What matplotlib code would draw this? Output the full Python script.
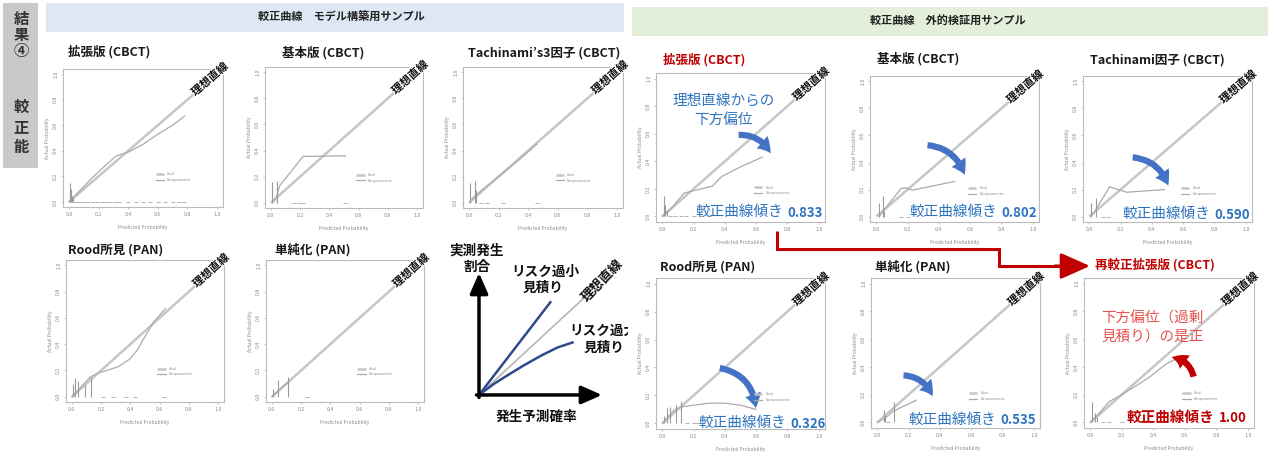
import numpy as np
import matplotlib
matplotlib.use('Agg')
import matplotlib.pyplot as plt
import matplotlib.patheffects as pe
from matplotlib.patches import Rectangle, FancyArrowPatch

plt.rcParams['font.family'] = ['Noto Sans CJK JP', 'DejaVu Sans']

W, H = 1270, 454

# ---- model-building sample (left) ----
bld_ext_px = [0.0, 0.05, 0.15, 0.25, 0.32, 0.40, 0.50, 0.60, 0.70, 0.78]
bld_ext_py = [0.0, 0.06, 0.18, 0.29, 0.36, 0.39, 0.45, 0.53, 0.60, 0.67]
bld_ext_sx = [0.005, 0.01, 0.015, 0.02, 0.03]
bld_ext_sh = [0.08, 0.15, 0.10, 0.05, 0.03]
bld_ext_rug = [0.04, 0.06, 0.08, 0.10, 0.13, 0.16, 0.19, 0.22, 0.25, 0.28, 0.31,
               0.34, 0.40, 0.45, 0.50, 0.55, 0.60, 0.65, 0.70, 0.74, 0.78]

bld_basic_px = [0.02, 0.04, 0.06, 0.22, 0.51]
bld_basic_py = [0.01, 0.05, 0.13, 0.355, 0.36]
bld_basic_sx = [0.01, 0.04, 0.045]
bld_basic_sh = [0.16, 0.17, 0.12]
bld_basic_rug = [0.16, 0.19, 0.22, 0.51]

bld_tachi_px = [0.02, 0.10, 0.20, 0.35, 0.46]
bld_tachi_py = [0.03, 0.11, 0.20, 0.34, 0.45]
bld_tachi_sx = [0.01, 0.04, 0.045]
bld_tachi_sh = [0.15, 0.17, 0.10]
bld_tachi_rug = [0.08, 0.12, 0.23, 0.46]

bld_rood_px = [0.0, 0.06, 0.125, 0.18, 0.24, 0.32, 0.40, 0.45, 0.49, 0.56, 0.64]
bld_rood_py = [0.0, 0.07, 0.15, 0.18, 0.20, 0.23, 0.29, 0.36, 0.44, 0.57, 0.67]
bld_rood_sx = [0.01, 0.02, 0.04, 0.09, 0.13]
bld_rood_sh = [0.10, 0.14, 0.12, 0.09, 0.15]
bld_rood_rug = [0.21, 0.28, 0.37, 0.43, 0.63]

bld_simple_px = [0.0, 0.04, 0.11]
bld_simple_py = [0.0, 0.04, 0.11]
bld_simple_sx = [0.01, 0.04, 0.11]
bld_simple_sh = [0.06, 0.13, 0.15]
bld_simple_rug = [0.24]

# ---- external validation sample (right) ----
val_ext_px = [0.0, 0.05, 0.14, 0.25, 0.32, 0.38, 0.50, 0.64]
val_ext_py = [0.0, 0.05, 0.17, 0.20, 0.22, 0.29, 0.36, 0.43]
val_ext_sx = [0.01, 0.02, 0.03]
val_ext_sh = [0.15, 0.08, 0.05]
val_ext_rug = [0.05, 0.08, 0.12, 0.15, 0.20, 0.25, 0.30]

val_basic_px = [0.02, 0.05, 0.16, 0.20, 0.23, 0.50]
val_basic_py = [0.0, 0.05, 0.21, 0.21, 0.195, 0.26]
val_basic_sx = [0.02, 0.04, 0.05]
val_basic_sh = [0.10, 0.15, 0.04]
val_basic_rug = [0.16, 0.20]

val_tachi_px = [0.01, 0.03, 0.13, 0.24, 0.48]
val_tachi_py = [0.0, 0.03, 0.22, 0.18, 0.20]
val_tachi_sx = [0.01, 0.04]
val_tachi_sh = [0.10, 0.14]
val_tachi_rug = [0.09, 0.12]

val_rood_px = [0.0, 0.04, 0.08, 0.13, 0.20, 0.30, 0.40, 0.50, 0.60]
val_rood_py = [0.0, 0.05, 0.10, 0.12, 0.13, 0.145, 0.145, 0.13, 0.10]
val_rood_sx = [0.01, 0.03, 0.05, 0.09, 0.12]
val_rood_sh = [0.05, 0.11, 0.12, 0.13, 0.16]
val_rood_rug = [0.16, 0.20, 0.23]

val_simple_px = [0.0, 0.05, 0.10, 0.25]
val_simple_py = [0.0, 0.03, 0.08, 0.16]
val_simple_sx = [0.04, 0.05, 0.11]
val_simple_sh = [0.09, 0.05, 0.15]
val_simple_rug = [0.07]

val_recal_px = [0.0, 0.06, 0.12, 0.20, 0.30, 0.38, 0.48, 0.55]
val_recal_py = [0.0, 0.07, 0.15, 0.20, 0.27, 0.33, 0.42, 0.46]
val_recal_sx = [0.01, 0.03, 0.04]
val_recal_sh = [0.15, 0.07, 0.04]
val_recal_rug = [0.08, 0.12, 0.20]

slopes = ['0.833', '0.802', '0.590', '0.326', '0.535', '1.00']

# ---- schematic ----
concept_ideal_x = [0, 0.88]
concept_ideal_y = [0, 0.82]
concept_under_x = [0, 0.58]
concept_under_y = [0, 0.76]
concept_over_x = [0, 0.12, 0.23, 0.36, 0.50, 0.64, 0.76]
concept_over_y = [0, 0.09, 0.16, 0.24, 0.32, 0.39, 0.43]

BLUE = '#2F74C0'
ARROW_BLUE = '#4472C4'
RED = '#C00000'

fig = plt.figure(figsize=(W / 100, H / 100), dpi=100)
fig.patch.set_facecolor('white')


def px_axes(l, t, r, b):
    return fig.add_axes([l / W, 1 - b / H, (r - l) / W, (b - t) / H])


# overlay in pixel coordinates for slide decoration
ov = fig.add_axes([0, 0, 1, 1])
ov.set_xlim(0, W)
ov.set_ylim(H, 0)
ov.axis('off')
ov.patch.set_alpha(0)

ov.add_patch(Rectangle((3, 3), 35, 165, color='#C9C9C9', lw=0))
for ch, yy in zip(['結', '果', '④', '較', '正', '能'], [19, 35, 51, 107, 127, 147]):
    ov.text(21, yy, ch, ha='center', va='center', fontsize=11, fontweight='bold', color='#333333')

ov.add_patch(Rectangle((46, 3), 578, 29, color='#DEE8F5', lw=0))
ov.text(341, 17, '較正曲線　モデル構築用サンプル', ha='center', va='center', fontsize=8, fontweight='bold', color='#222222')
ov.add_patch(Rectangle((632, 7), 636, 29, color='#E3EFDA', lw=0))
ov.text(948, 21, '較正曲線　外的検証用サンプル', ha='center', va='center', fontsize=8, fontweight='bold', color='#222222')

titles = [
    (68, 52, '拡張版 (CBCT)', '#1A1A1A'),
    (282, 53, '基本版 (CBCT)', '#1A1A1A'),
    (468, 53, 'Tachinami’s3因子 (CBCT)', '#1A1A1A'),
    (68, 250, 'Rood所見 (PAN)', '#1A1A1A'),
    (275, 250, '単純化 (PAN)', '#1A1A1A'),
    (663, 60, '拡張版 (CBCT)', RED),
    (877, 59, '基本版 (CBCT)', '#1A1A1A'),
    (1090, 60, 'Tachinami因子 (CBCT)', '#1A1A1A'),
    (660, 267, 'Rood所見 (PAN)', '#1A1A1A'),
    (875, 267, '単純化 (PAN)', '#1A1A1A'),
    (1095, 265, '再較正拡張版 (CBCT)', RED),
]
for x, y, s, c in titles:
    ov.text(x, y, s, ha='left', va='center', fontsize=9, fontweight='bold', color=c)

# red connector from validation 拡張版 to 再較正
ov.plot([777, 777, 999, 999, 1062], [231, 249, 249, 266, 266], color=RED, lw=2.2,
        solid_joinstyle='miter', solid_capstyle='butt')
ov.annotate('', xy=(1090, 266), xytext=(1055, 266),
            arrowprops=dict(arrowstyle='-|>,head_length=0.9,head_width=0.4', mutation_scale=20,
                            color=RED, lw=2.2, shrinkA=0, shrinkB=0))


def calib_panel(frame, cx, cy, sx, sh, rug):
    ax = px_axes(*frame)
    ax.plot([0, 1], [0, 1], color='#C6C6C6', lw=1.8, label='Ideal', solid_capstyle='butt')
    ax.plot(cx, cy, color='#ABABAB', lw=0.9, label='Nonparametric')
    ax.vlines(sx, 0, sh, color='#9A9A9A', lw=0.8)
    ax.plot(rug, np.zeros(len(rug)), ls='none', marker='_', ms=2.5, mew=0.7, color='#B0B0B0')
    ax.set_xlim(-0.04, 1.04)
    ax.set_ylim(-0.04, 1.04)
    ticks = np.arange(0, 1.01, 0.2)
    labels = [f'{t:.1f}' for t in ticks]
    ax.set_xticks(ticks)
    ax.set_yticks(ticks)
    ax.set_xticklabels(labels)
    ax.set_yticklabels(labels, rotation=90, va='center')
    ax.tick_params(length=1.5, width=0.5, colors='#AAAAAA', labelsize=3.8,
                   labelcolor='#8A8A8A', pad=2)
    for s in ax.spines.values():
        s.set_color('#BBBBBB')
        s.set_linewidth(0.8)
    ax.set_xlabel('Predicted Probability', fontsize=3.5, color='#8A8A8A', labelpad=6)
    ax.set_ylabel('Actual Probability', fontsize=3.5, color='#8A8A8A', labelpad=2)
    ax.legend(loc=(0.57, 0.17), fontsize=2.5, frameon=False, handlelength=2.5,
              labelcolor='#8A8A8A')
    ax.text(0.95, 0.96, '理想直線', rotation=45, transform_rotates_text=True,
            rotation_mode='anchor', ha='center', va='center', fontsize=8,
            fontweight='bold', color='#111111', clip_on=False,
            path_effects=[pe.withStroke(linewidth=1.5, foreground='white')])
    return ax


def curved_arrow(ax, start, end, rad, color):
    arr = FancyArrowPatch(start, end, connectionstyle=f'arc3,rad={rad}',
                          arrowstyle='simple,head_width=12,head_length=10,tail_width=4.5',
                          mutation_scale=1, color=color, lw=0, clip_on=False, zorder=5)
    ax.add_patch(arr)


def slope_label(ax, x, y, value, color, bold=False):
    t = ax.text(x, y, '較正曲線傾き', color=color, fontsize=10.5, ha='left', va='center',
                fontweight='bold' if bold else 'normal', clip_on=False, zorder=6)
    ax.annotate(value, xy=(1, 0.45), xycoords=t, xytext=(3, 0), textcoords='offset points',
                color=color, fontsize=9.5, fontweight='bold', ha='left', va='center', zorder=6)


calib_panel((63, 69, 223, 207), bld_ext_px, bld_ext_py, bld_ext_sx, bld_ext_sh, bld_ext_rug)
calib_panel((265, 67, 423, 208), bld_basic_px, bld_basic_py, bld_basic_sx, bld_basic_sh, bld_basic_rug)
calib_panel((463, 67, 623, 208), bld_tachi_px, bld_tachi_py, bld_tachi_sx, bld_tachi_sh, bld_tachi_rug)
calib_panel((66, 260, 224, 402), bld_rood_px, bld_rood_py, bld_rood_sx, bld_rood_sh, bld_rood_rug)
calib_panel((266, 260, 424, 402), bld_simple_px, bld_simple_py, bld_simple_sx, bld_simple_sh, bld_simple_rug)

r1 = calib_panel((656, 73, 825, 222), val_ext_px, val_ext_py, val_ext_sx, val_ext_sh, val_ext_rug)
r2 = calib_panel((870, 76, 1039, 222), val_basic_px, val_basic_py, val_basic_sx, val_basic_sh, val_basic_rug)
r3 = calib_panel((1083, 76, 1252, 222), val_tachi_px, val_tachi_py, val_tachi_sx, val_tachi_sh, val_tachi_rug)
r4 = calib_panel((656, 278, 825, 429), val_rood_px, val_rood_py, val_rood_sx, val_rood_sh, val_rood_rug)
r5 = calib_panel((871, 278, 1040, 428), val_simple_px, val_simple_py, val_simple_sx, val_simple_sh, val_simple_rug)
r6 = calib_panel((1084, 278, 1254, 428), val_recal_px, val_recal_py, val_recal_sx, val_recal_sh, val_recal_rug)

# blue annotations on validation panels
r1.text(0.39, 0.84, '理想直線からの', color=BLUE, fontsize=10.5, ha='center', va='center', zorder=6)
r1.text(0.39, 0.70, '下方偏位', color=BLUE, fontsize=10.5, ha='center', va='center', zorder=6)
curved_arrow(r1, (0.47, 0.59), (0.70, 0.44), -0.35, ARROW_BLUE)
curved_arrow(r2, (0.31, 0.53), (0.57, 0.29), -0.35, ARROW_BLUE)
curved_arrow(r3, (0.26, 0.44), (0.51, 0.21), -0.35, ARROW_BLUE)
curved_arrow(r4, (0.35, 0.40), (0.60, 0.09), -0.4, ARROW_BLUE)
curved_arrow(r5, (0.15, 0.34), (0.36, 0.17), -0.35, ARROW_BLUE)
slope_label(r1, 0.21, 0.03, slopes[0], BLUE)
slope_label(r2, 0.21, 0.035, slopes[1], BLUE)
slope_label(r3, 0.21, 0.02, slopes[2], BLUE)
slope_label(r4, 0.23, 0.0, slopes[3], BLUE)
slope_label(r5, 0.20, 0.02, slopes[4], BLUE)

r6.text(0.07, 0.75, '下方偏位（過剰', color='#E5534B', fontsize=10.5, ha='left', va='center', zorder=6)
r6.text(0.07, 0.62, '見積り）の是正', color='#E5534B', fontsize=10.5, ha='left', va='center', zorder=6)
curved_arrow(r6, (0.66, 0.31), (0.50, 0.47), 0.4, RED)
slope_label(r6, 0.23, 0.04, slopes[5], RED, bold=True)

# schematic
sch = px_axes(440, 235, 628, 450)
sch.set_xlim(-0.317, 1.211)
sch.set_ylim(-0.451, 1.311)
sch.axis('off')
sch.plot(concept_ideal_x, concept_ideal_y, color='#B5B5B5', lw=1.2)
sch.plot(concept_under_x, concept_under_y, color='#2F4A8A', lw=1.8)
sch.plot(concept_over_x, concept_over_y, color='#2F4A8A', lw=1.8)
head = dict(arrowstyle='-|>,head_length=0.5,head_width=0.22', mutation_scale=25,
            color='black', lw=2.5, shrinkA=0, shrinkB=0)
sch.annotate('', xy=(0, 1.0), xytext=(0, -0.02), arrowprops=head)
sch.annotate('', xy=(1.0, 0), xytext=(-0.02, 0), arrowprops=head)
bold10 = dict(fontsize=9.8, fontweight='bold', color='#111111', ha='center', va='center')
sch.text(-0.016, 1.18, '実測発生', **bold10)
sch.text(-0.016, 1.05, '割合', **bold10)
sch.text(0.54, 1.01, 'リスク過小', **bold10)
sch.text(0.52, 0.88, '見積り', **bold10)
sch.text(1.01, 0.53, 'リスク過大', clip_on=True, **bold10)
sch.text(1.02, 0.385, '見積り', clip_on=True, **bold10)
sch.text(0.47, -0.18, '発生予測確率', **bold10)
sch.text(1.0, 0.94, '理想直線', rotation=46, rotation_mode='anchor', fontsize=9.5,
         fontweight='bold', color='#111111', ha='center', va='center')

fig.savefig('out.png', dpi=100)
